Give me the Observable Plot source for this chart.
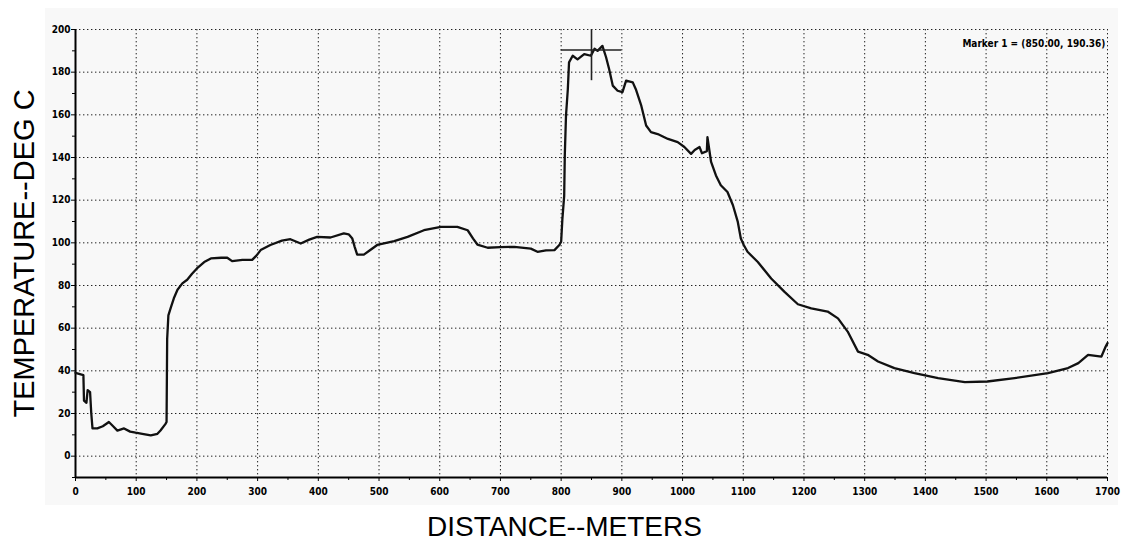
<!DOCTYPE html>
<html>
<head>
<meta charset="utf-8">
<script src="https://cdn.jsdelivr.net/npm/d3@7"></script>
<script src="https://cdn.jsdelivr.net/npm/@observablehq/plot@0.6"></script>
<style>
  html, body { margin: 0; padding: 0; background: #ffffff; }
  #wrap { position: relative; width: 1124px; height: 544px; }
  #bg { position: absolute; left: 45px; top: 8px; width: 1073px; height: 497px; background: #f8f8f8; }
  #chart { position: absolute; left: 0; top: 0; }
</style>
</head>
<body>
<div id="wrap"><div id="bg"></div><div id="chart"></div></div>
<script>
// ---- data ----
const distance = [0,13,14,18,20,24,26,28,36,45,55,62,69,80,90,99,110,124,135,140,148,150,151,153,157,162,168,176,184,192,200,212,223,240,250,258,275,291,298,305,321,340,354,371,385,398,420,442,450,456,460,464,475,485,497,525,547,574,602,629,646,655,662,679,700,723,750,761,775,789,797,800,802,805,806,808,811,813,819,827,838,849,855,860,868,874,879,885,893,901,907,918,923,932,940,948,959,976,992,1003,1014,1020,1028,1032,1040,1041,1047,1055,1063,1074,1083,1091,1096,1101,1107,1124,1146,1168,1190,1212,1239,1256,1272,1289,1305,1322,1349,1382,1421,1465,1502,1547,1602,1635,1652,1668,1690,1697,1700];
const temperature = [39,38,26,25,31,30,20,13,13,14,16,14,12,13,11.5,11,10.5,9.7,10.5,12,15,16,55,66,69.6,74,78,81,82.7,85.5,88,91,92.7,93,93,91.4,92,92,94,96.6,99,101,101.7,99.7,101.5,102.8,102.5,104.4,104,102,98,94.5,94.5,96.5,99,100.8,102.8,105.9,107.5,107.5,105.9,102,99.2,97.7,98,98.1,97.3,95.8,96.5,96.6,99,100.5,111,122,141,159.7,172,184.6,187.7,186,188.5,187.7,191,190,192.3,187,181.5,173.7,171.3,170.6,176,175.2,172,164.3,155,151.9,151,148.7,147.2,144.9,141.7,143.5,144.9,142,143,149.5,137.9,131.6,127,123.8,117.6,109.8,102,98.9,95.8,91,83.3,77,71.2,69.3,67.8,64.6,58.4,49,47.5,44.4,41.3,38.9,36.6,34.7,35,36.6,38.9,41.3,43.6,47.5,46.7,51.4,53];

const xTickLabels = [0,100,200,300,400,500,600,700,800,900,1000,1100,1200,1300,1400,1500,1600,1700];
const xMinorTicks = [50,150,250,350,450,550,650,750,850,950,1050,1150,1250,1350,1450,1550,1650];
const yTickLabels = [0,20,40,60,80,100,120,140,160,180,200];
const yMinorTicks = [-10,10,30,50,70,90,110,130,150,170,190];

const markerX = [850];
const markerY = [190.36];
const markerSpanX = [800, 900];
const markerSpanY = [176, 200];
const markerLabel = ["Marker 1 = (850.00, 190.36)"];

const xTitle = ["DISTANCE--METERS"];
const yTitle = ["TEMPERATURE--DEG C"];

const data = distance.map((d, i) => ({distance: d, temperature: temperature[i]}));

const tickFont = "'Liberation Sans Narrow', 'DejaVu Sans Condensed', 'Liberation Sans', sans-serif";
const titleFont = "'Liberation Sans', Arial, sans-serif";
const gridStyle = {stroke: "#222", strokeOpacity: 1, strokeWidth: 1, strokeDasharray: "1.4,2.6"};

const chart = Plot.plot({
  width: 1124,
  height: 544,
  marginLeft: 75,
  marginRight: 17,
  marginTop: 29,
  marginBottom: 67,
  x: {domain: [0, 1700]},
  y: {domain: [-10, 200]},
  style: {background: "transparent", fontFamily: tickFont, color: "#000"},
  marks: [
    Plot.gridX(xTickLabels, gridStyle),
    Plot.gridY(yTickLabels, gridStyle),
    Plot.axisX(xTickLabels, {tickSize: 4, tickPadding: 6, fontSize: 10, fontWeight: "bold", label: null, stroke: "#000", tickFormat: d => String(d)}),
    Plot.axisX(xMinorTicks, {tickSize: 3, text: null, label: null, stroke: "#000"}),
    Plot.axisY(yTickLabels, {tickSize: 4, tickPadding: 1, fontSize: 10, fontWeight: "bold", label: null, stroke: "#000", tickFormat: d => String(d)}),
    Plot.axisY(yMinorTicks, {tickSize: 3, text: null, label: null, stroke: "#000"}),
    Plot.ruleX([0], {stroke: "#000", strokeWidth: 2}),
    Plot.ruleY([-10], {stroke: "#000", strokeWidth: 2}),
    Plot.line(data, {x: "distance", y: "temperature", stroke: "#111", strokeWidth: 2.3, strokeLinejoin: "round"}),
    Plot.ruleY(markerY, {x1: markerSpanX[0], x2: markerSpanX[1], stroke: "#222", strokeWidth: 1.6}),
    Plot.ruleX(markerX, {y1: markerSpanY[0], y2: markerSpanY[1], stroke: "#222", strokeWidth: 1.6}),
    Plot.text(markerLabel, {frameAnchor: "top-right", dx: -2, dy: 10, fontSize: 10, fontWeight: "bold", fill: "#000", textAnchor: "end"}),
    Plot.text(yTitle, {frameAnchor: "left", textAnchor: "middle", lineAnchor: "middle", dx: -51, rotate: -90, fontSize: 29, fontFamily: titleFont, fill: "#000"}),
    Plot.text(xTitle, {frameAnchor: "bottom", textAnchor: "middle", lineAnchor: "middle", dx: -27, dy: 50, fontSize: 28, fontFamily: titleFont, fill: "#000"})
  ]
});
document.getElementById("chart").appendChild(chart);
</script>
</body>
</html>
